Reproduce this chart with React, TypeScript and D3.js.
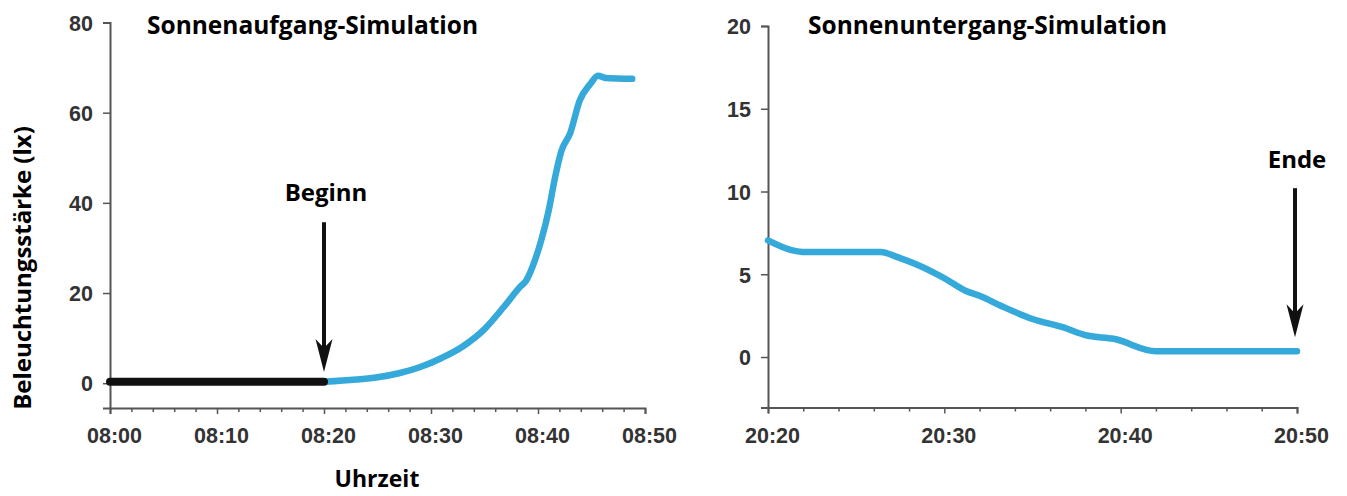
import React, { useRef, useEffect } from 'react';
import * as d3 from 'd3';

// Sonnenaufgang: minutes after 08:00, lux
const riseBlackMin = [0, 20];
const riseBlackLux = [0.3, 0.3];
const riseMin = [20, 23, 25, 27, 29, 31, 33, 35, 36.8, 38.3, 38.9, 39.7, 40.3, 41.0, 41.6, 42.2, 43.0, 43.9, 44.9, 45.6, 46.3, 48.8];
const riseLux = [0.3, 0.8, 1.3, 2.2, 3.6, 5.6, 8.2, 12, 16.9, 21.3, 22.8, 27.2, 31.7, 38.3, 45.7, 51.6, 55.4, 62.7, 66.4, 68.2, 67.7, 67.5];

// Sonnenuntergang: minutes after 20:20, lux
const setMin = [0, 2, 6.4, 7.3, 8.4, 9.4, 10.1, 11.2, 12, 13.2, 15, 16.7, 18.1, 19.6, 22, 30];
const setLux = [7.05, 6.35, 6.35, 6.05, 5.6, 5.1, 4.7, 4.0, 3.7, 3.1, 2.3, 1.8, 1.3, 1.1, 0.35, 0.35];

const riseYTicks = [0, 20, 40, 60, 80];
const setYTicks = [0, 5, 10, 15, 20];

const riseTitle = 'Sonnenaufgang-Simulation';
const setTitle = 'Sonnenuntergang-Simulation';
const yLabel = 'Beleuchtungsstärke (lx)';
const xLabel = 'Uhrzeit';

const BLUE = '#35a9da';
const TEXT_FONT = '"Open Sans", "Noto Sans", sans-serif';
const TICK_FONT = '"Liberation Sans", Arial, sans-serif';

const App = () => {
  const svgRef = useRef<SVGSVGElement>(null);

  useEffect(() => {
    const svg = d3.select(svgRef.current);
    svg.selectAll('*').remove();

    const drawPanel = (opts: any) => {
      const { x0, x1, yTop, yBottom, yDomain, yTicks, startH, startM, span, lines, title, titleX } = opts;
      const base = new Date(2020, 0, 1, startH, startM);
      const t = (m: number) => new Date(base.getTime() + m * 60000);
      const x = d3.scaleTime().domain([base, t(span)]).range([x0, x1]);
      const y = d3.scaleLinear().domain(yDomain).range([yBottom, yTop]);
      const fmt = d3.timeFormat('%H:%M');

      const xTicks = d3.range(0, span + 1, 2).map(t);
      const gx = svg.append('g')
        .attr('transform', `translate(0,${yBottom})`)
        .call(d3.axisBottom(x).tickValues(xTicks).tickSizeOuter(0).tickSize(6).tickPadding(14)
          .tickFormat((d: any) => (d.getMinutes() % 10 === 0 ? fmt(d) : '')));
      gx.selectAll('.tick line')
        .attr('y2', (d: any) => (d.getMinutes() % 10 === 0 ? 6 : 4));
      gx.selectAll('.tick text').attr('dx', 4);

      const gy = svg.append('g')
        .attr('transform', `translate(${x0},0)`)
        .call(d3.axisLeft(y).tickValues(yTicks).tickSizeOuter(0).tickSize(7).tickPadding(10));
      gy.selectAll('.tick text').attr('dy', '0.36em');

      [gx, gy].forEach(g => {
        g.select('.domain').attr('stroke', '#555').attr('stroke-width', 2);
        g.selectAll('.tick line').attr('stroke', '#555').attr('stroke-width', 1.5);
        g.selectAll('.tick text')
          .attr('fill', '#333')
          .style('font-family', TICK_FONT)
          .style('font-weight', 'bold')
          .style('font-size', '21.5px');
      });

      const line = d3.line<[number, number]>()
        .x(d => x(t(d[0])))
        .y(d => y(d[1]))
        .curve(d3.curveMonotoneX);

      lines.forEach((l: any) => {
        svg.append('path')
          .datum(d3.zip(l.min, l.lux) as [number, number][])
          .attr('d', line)
          .attr('fill', 'none')
          .attr('stroke', l.color)
          .attr('stroke-width', l.width)
          .attr('stroke-linecap', 'round')
          .attr('stroke-linejoin', 'round');
      });

      svg.append('text')
        .attr('x', titleX)
        .attr('y', 34)
        .style('font-family', TEXT_FONT)
        .style('font-weight', 'bold')
        .style('font-size', '24.5px')
        .text(title);

      return { x, y, t };
    };

    const rise = drawPanel({
      x0: 110, x1: 645, yTop: 22.5, yBottom: 408,
      yDomain: [-5.5, 80], yTicks: riseYTicks,
      startH: 8, startM: 0, span: 50,
      lines: [
        { min: riseMin, lux: riseLux, color: BLUE, width: 6.5 },
        { min: riseBlackMin, lux: riseBlackLux, color: '#111', width: 8 }
      ],
      title: riseTitle, titleX: 147
    });

    const set = drawPanel({
      x0: 768, x1: 1297, yTop: 26, yBottom: 407.5,
      yDomain: [-3.05, 20], yTicks: setYTicks,
      startH: 20, startM: 20, span: 30,
      lines: [{ min: setMin, lux: setLux, color: BLUE, width: 6.5 }],
      title: setTitle, titleX: 808
    });

    // Annotation arrows
    const arrow = (ax: number, yFrom: number, yTip: number, label: string, labelY: number) => {
      svg.append('line')
        .attr('x1', ax).attr('x2', ax)
        .attr('y1', yFrom).attr('y2', yTip - 20)
        .attr('stroke', '#111').attr('stroke-width', 4);
      svg.append('path')
        .attr('d', `M${ax},${yTip} L${ax - 8.5},${yTip - 33} L${ax},${yTip - 24} L${ax + 8.5},${yTip - 33} Z`)
        .attr('fill', '#111');
      svg.append('text')
        .attr('x', ax + 2)
        .attr('y', labelY)
        .attr('text-anchor', 'middle')
        .style('font-family', TEXT_FONT)
        .style('font-weight', 'bold')
        .style('font-size', '24px')
        .text(label);
    };
    arrow(rise.x(rise.t(20)), rise.y(35.7), rise.y(2.5), 'Beginn', 201);
    arrow(set.x(set.t(30)) - 2, set.y(10.2), set.y(1.2), 'Ende', 168);

    // Axis titles
    svg.append('text')
      .attr('transform', `translate(31,268) rotate(-90)`)
      .attr('text-anchor', 'middle')
      .style('font-family', TEXT_FONT)
      .style('font-weight', 'bold')
      .style('font-size', '24px')
      .text(yLabel);

    svg.append('text')
      .attr('x', 377)
      .attr('y', 487)
      .attr('text-anchor', 'middle')
      .style('font-family', TEXT_FONT)
      .style('font-weight', 'bold')
      .style('font-size', '23px')
      .text(xLabel);
  }, []);

  return (
    <svg
      ref={svgRef}
      width={1347}
      height={496}
      style={{ position: 'absolute', left: 0, top: 0, background: '#fff' }}
    />
  );
};

export default App;
